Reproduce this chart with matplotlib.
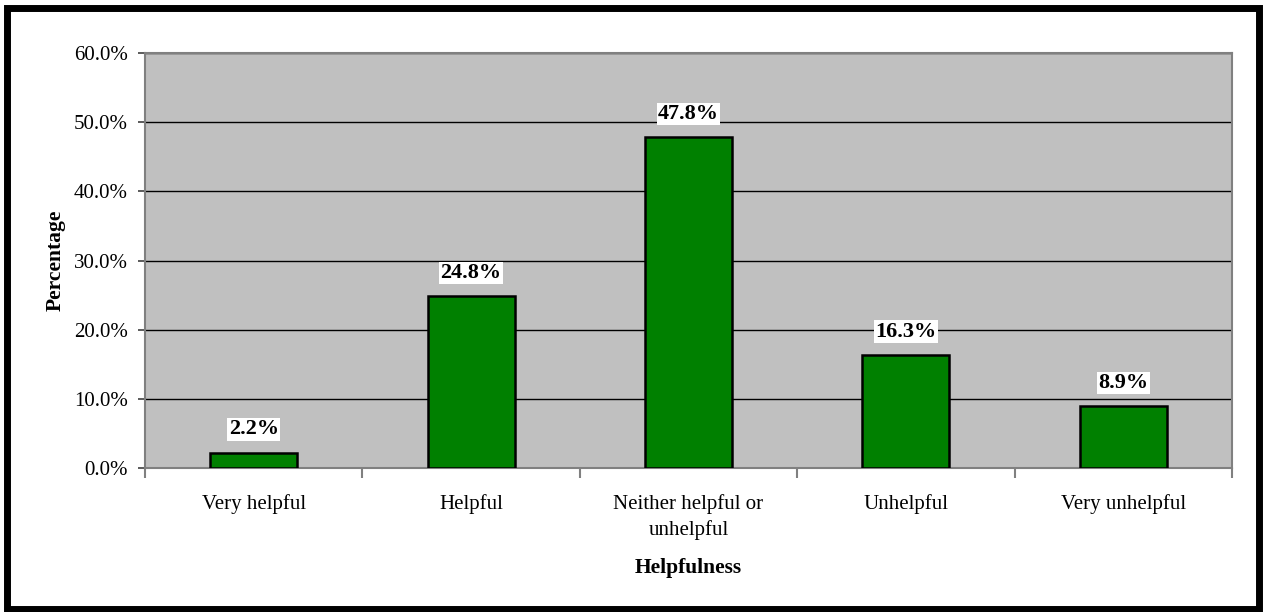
import numpy as np
import matplotlib.pyplot as plt
from matplotlib.patches import Rectangle

# Data
categories = ["Very helpful", "Helpful", "Neither helpful or\nunhelpful", "Unhelpful", "Very unhelpful"]
values = [2.2, 24.8, 47.8, 16.3, 8.9]
yticks = [0, 10, 20, 30, 40, 50, 60]

plt.rcParams['font.family'] = ['Liberation Serif', 'DejaVu Serif']

fig = plt.figure(figsize=(12.63, 6.12), dpi=100)
ax = fig.add_axes([145 / 1263, 1 - 468 / 612, (1232 - 145) / 1263, (468 - 53) / 612])
ax.set_facecolor("#C0C0C0")

x = np.arange(len(categories))
ax.bar(x, values, width=0.4, color="#008000", edgecolor="black", linewidth=1.8, zorder=3)

for xi, v in zip(x, values):
    ax.text(xi, v + 3.4, "%.1f%%" % v, ha="center", va="center", fontsize=16, fontweight="bold",
            bbox=dict(facecolor="white", edgecolor="none", pad=1.0), zorder=4)

ax.set_xlim(-0.5, len(categories) - 0.5)
ax.set_ylim(0, 60)
ax.set_yticks(yticks)
ax.set_yticklabels(["%.1f%%" % t for t in yticks], fontsize=15)
ax.yaxis.grid(True, color="black", linewidth=1.0, zorder=1)
ax.set_axisbelow(True)

ax.set_xticks(x)
ax.set_xticklabels(categories, fontsize=15, linespacing=1.45)
ax.set_xticks(np.arange(-0.5, len(categories)), minor=True)
ax.tick_params(axis="x", which="major", length=0, pad=18.5)
ax.tick_params(axis="x", which="minor", length=7, width=1.5, color="#808080")
ax.tick_params(axis="y", length=5, width=1.2, color="#404040", pad=7.5)

for s in ax.spines.values():
    s.set_color("#808080")
    s.set_linewidth(1.5)

ax.set_ylabel("Percentage", fontsize=15.5, fontweight="bold", labelpad=6)
ax.set_xlabel("Helpfulness", fontsize=15.5, fontweight="bold", labelpad=13)

# outer border
fig.patches.append(Rectangle((7 / 1263, 3.5 / 612), (1258.5 - 7) / 1263, (604.5 - 3.5) / 612,
                             transform=fig.transFigure, fill=False, edgecolor="black", linewidth=5))

fig.savefig("out.png", dpi=100)
